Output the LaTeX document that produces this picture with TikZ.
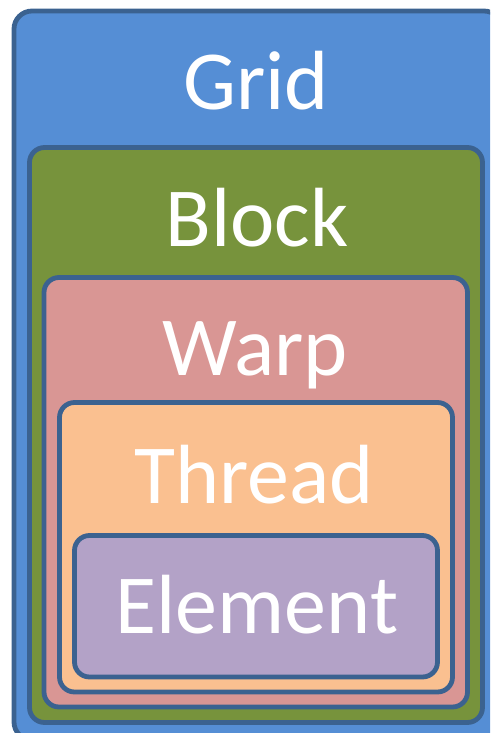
\documentclass[tikz,border=0pt]{standalone}
\usepackage{fontspec}
\setmainfont{Carlito}
\definecolor{bordc}{HTML}{3B6290}
\definecolor{gridc}{HTML}{558ED5}
\definecolor{blockc}{HTML}{77933C}
\definecolor{warpc}{HTML}{D99694}
\definecolor{threadc}{HTML}{FAC090}
\definecolor{elemc}{HTML}{B3A2C7}
\begin{document}
\begin{tikzpicture}[x=1pt,y=-1pt,
  levelbox/.style={draw=bordc,line width=4.8pt,rounded corners=15pt},
  lbl/.style={anchor=base,text=white,font=\fontsize{84}{90}\selectfont,inner sep=0pt}]
\useasboundingbox (0,0) rectangle (490,733);
\begin{scope}
\clip (0,0) rectangle (490,733);
\draw[levelbox,fill=gridc,rounded corners=18pt] (14,11) rectangle (502,740);
\draw[levelbox,fill=blockc] (29.5,147.5) rectangle (482.5,722.5);
\draw[levelbox,fill=warpc] (44,277.5) rectangle (467.5,707);
\draw[levelbox,fill=threadc] (59.5,402.5) rectangle (452.5,692);
\draw[levelbox,fill=elemc] (74.5,535.5) rectangle (437.5,677);
\end{scope}
\node[lbl] (grid) at (256,110) {Grid};
\node[lbl] (block) at (257,246) {Block};
\node[lbl] (warp) at (255,375) {Warp};
\node[lbl] (thread) at (254,503) {Thread};
\node[lbl] (element) at (257,633) {Element};
\end{tikzpicture}
\end{document}
